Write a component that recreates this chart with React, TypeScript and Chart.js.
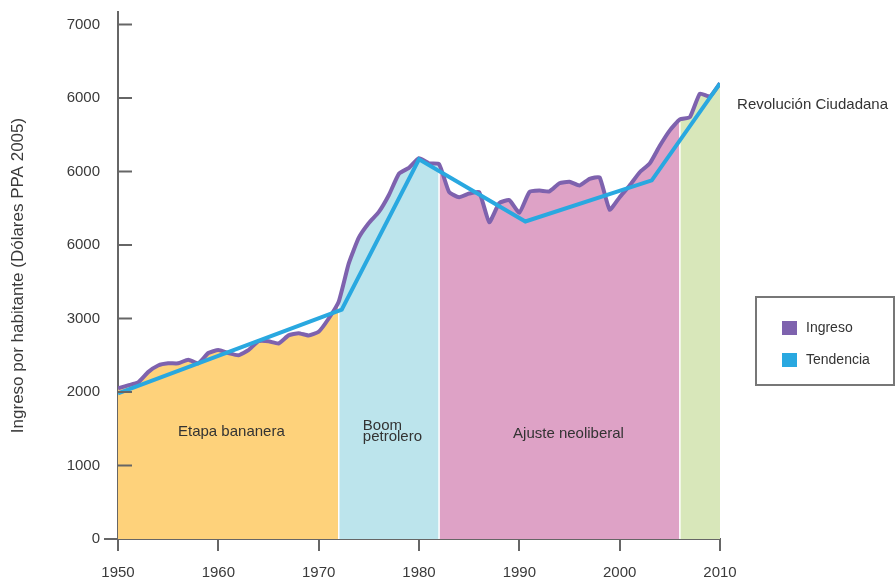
import React, { useEffect, useRef } from "react";
import { Chart, registerables } from "chart.js";

Chart.register(...registerables);

const years = [
  1950, 1951, 1952, 1953, 1954, 1955, 1956, 1957, 1958, 1959,
  1960, 1961, 1962, 1963, 1964, 1965, 1966, 1967, 1968, 1969,
  1970, 1971, 1972, 1973, 1974, 1975, 1976, 1977, 1978, 1979,
  1980, 1981, 1982, 1983, 1984, 1985, 1986, 1987, 1988, 1989,
  1990, 1991, 1992, 1993, 1994, 1995, 1996, 1997, 1998, 1999,
  2000, 2001, 2002, 2003, 2004, 2005, 2006, 2007, 2008, 2009, 2010,
];

const ingreso = [
  2050, 2090, 2130, 2270, 2360, 2390, 2390, 2440, 2390, 2530,
  2570, 2530, 2500, 2570, 2690, 2690, 2660, 2770, 2800, 2770,
  2820, 3000, 3230, 3750, 4100, 4300, 4450, 4680, 4970, 5050,
  5180, 5110, 5100, 4720, 4650, 4700, 4720, 4310, 4570, 4610,
  4440, 4720, 4740, 4730, 4840, 4860, 4810, 4900, 4920, 4480,
  4650, 4810, 4990, 5110, 5350, 5560, 5710, 5740, 6060, 6020, 6200,
];

const trendYears = [1950, 1972.3, 1980, 1990.6, 2003.2, 2010];
const trendValues = [1980, 3120, 5165, 4320, 4880, 6200];

const regionBounds = [1950, 1972, 1982, 2006, 2010];
const regionNames = ["Etapa bananera", "Boom\npetrolero", "Ajuste neoliberal", ""];
const regionColors = ["#FED27B", "#BCE4EC", "#DEA2C6", "#D8E7BA"];

const yTickValues = [0, 1000, 2000, 3000, 4000, 5000, 6000, 7000];
const yTickLabels = ["0", "1000", "2000", "3000", "6000", "6000", "6000", "7000"];
const xTickStep = 10;

const FONT = "'Liberation Sans', Arial, Helvetica, sans-serif";
const TENSION = 0.15;

export default function App() {
  const ref = useRef<HTMLCanvasElement | null>(null);

  useEffect(() => {
    if (!ref.current) return;
    const points = years.map((y, i) => ({ x: y, y: ingreso[i] }));
    const fills = regionColors.map((c, r) => ({
      type: "line" as const,
      label: "region" + r,
      data: points.filter((p) => p.x >= regionBounds[r] && p.x <= regionBounds[r + 1]),
      backgroundColor: c,
      borderWidth: 0,
      pointRadius: 0,
      fill: "origin",
      tension: TENSION,
      order: 2 + r,
    }));

    const decor = {
      id: "decor",
      beforeDatasetDraw(chart: any, args: any) {
        if (args.index !== 1) return;
        const ctx = chart.ctx;
        const xs = chart.scales.x;
        const ys = chart.scales.y;
        ctx.save();
        ctx.strokeStyle = "#ffffff";
        ctx.lineWidth = 1.5;
        for (let i = 1; i < regionBounds.length - 1; i++) {
          const yr = regionBounds[i];
          const v = ingreso[years.indexOf(yr)];
          const px = xs.getPixelForValue(yr);
          ctx.beginPath();
          ctx.moveTo(px, ys.getPixelForValue(0));
          ctx.lineTo(px, ys.getPixelForValue(v) + 3);
          ctx.stroke();
        }
        ctx.restore();
      },
      afterDraw(chart: any) {
        const ctx = chart.ctx;
        const xs = chart.scales.x;
        const ys = chart.scales.y;
        const left = xs.left;
        ctx.save();
        ctx.strokeStyle = "#666666";
        ctx.lineWidth = 2;
        yTickValues.forEach((val) => {
          const py = ys.getPixelForValue(val);
          ctx.beginPath();
          if (val === 0) {
            ctx.moveTo(left - 14, py);
            ctx.lineTo(left, py);
          } else {
            ctx.moveTo(left, py);
            ctx.lineTo(left + 14, py);
          }
          ctx.stroke();
        });
        ctx.fillStyle = "#333333";
        ctx.font = "15px " + FONT;
        ctx.textBaseline = "middle";
        ctx.textAlign = "center";
        ctx.fillText(regionNames[0], xs.getPixelForValue(1961.3), ys.getPixelForValue(1460));
        ctx.fillText(regionNames[2], xs.getPixelForValue(1994.9), ys.getPixelForValue(1430));
        ctx.textAlign = "left";
        const boom = regionNames[1].split("\n");
        ctx.fillText(boom[0], xs.getPixelForValue(1974.4), ys.getPixelForValue(1540));
        ctx.fillText(boom[1], xs.getPixelForValue(1974.4), ys.getPixelForValue(1390));
        ctx.fillText("Revolución Ciudadana", xs.getPixelForValue(2011.7), ys.getPixelForValue(5910));
        ctx.strokeStyle = "#777777";
        ctx.lineWidth = 2;
        ctx.strokeRect(756, 297, 138, 88);
        const items = [
          { label: chart.data.datasets[1].label, color: chart.data.datasets[1].borderColor, y: 321 },
          { label: chart.data.datasets[0].label, color: chart.data.datasets[0].borderColor, y: 353 },
        ];
        ctx.font = "14px " + FONT;
        items.forEach((it) => {
          ctx.fillStyle = it.color;
          ctx.fillRect(782, it.y, 15, 14);
          ctx.fillStyle = "#333333";
          ctx.fillText(it.label, 806, it.y + 7);
        });
        ctx.restore();
      },
    };

    const chart = new Chart(ref.current, {
      type: "line",
      data: {
        datasets: [
          {
            label: "Tendencia",
            data: trendYears.map((y, i) => ({ x: y, y: trendValues[i] })),
            borderColor: "#29A8E0",
            backgroundColor: "#29A8E0",
            borderWidth: 4,
            pointRadius: 0,
            fill: false,
            tension: 0,
            order: 0,
          },
          {
            label: "Ingreso",
            data: points,
            borderColor: "#7E62AE",
            backgroundColor: "#7E62AE",
            borderWidth: 4,
            pointRadius: 0,
            fill: false,
            tension: TENSION,
            order: 1,
          },
          ...fills,
        ] as any,
      },
      options: {
        responsive: false,
        animation: false,
        layout: { padding: { left: 0, right: 175, top: 12, bottom: 0 } },
        plugins: { legend: { display: false }, tooltip: { enabled: false } },
        scales: {
          x: {
            type: "linear",
            min: 1950,
            max: 2010,
            afterFit(scale: any) {
              scale.height = 42;
              scale.paddingLeft = 0;
              scale.paddingRight = 0;
            },
            ticks: {
              stepSize: xTickStep,
              padding: 13,
              autoSkip: false,
              color: "#3a3a3a",
              font: { size: 15, family: FONT },
              maxRotation: 0,
              callback: (v: any) => String(v),
            },
            grid: {
              drawOnChartArea: false,
              drawTicks: true,
              tickLength: 12,
              color: "#666666",
              lineWidth: 2,
            },
            border: { color: "#666666", width: 2 },
          },
          y: {
            type: "linear",
            min: 0,
            max: 7170,
            afterFit(scale: any) {
              scale.width = 118;
              scale.paddingTop = 0;
              scale.paddingBottom = 0;
            },
            afterBuildTicks(scale: any) {
              scale.ticks = yTickValues.map((v) => ({ value: v }));
            },
            ticks: {
              padding: 18,
              autoSkip: false,
              color: "#3a3a3a",
              font: { size: 15, family: FONT },
              callback: (v: any) => yTickLabels[yTickValues.indexOf(v)],
            },
            grid: { drawOnChartArea: false, drawTicks: false },
            border: { color: "#666666", width: 2 },
            title: {
              display: true,
              text: "Ingreso por habitante (Dólares PPA 2005)",
              color: "#3a3a3a",
              font: { size: 17, family: FONT },
              padding: { top: 8, bottom: 0 },
            },
          },
        },
      },
      plugins: [decor],
    });
    return () => chart.destroy();
  }, []);

  return (
    <div style={{ position: "absolute", left: 0, top: 0, width: 895, height: 581, background: "#fff" }}>
      <canvas ref={ref} width={895} height={581} style={{ display: "block" }} />
    </div>
  );
}
